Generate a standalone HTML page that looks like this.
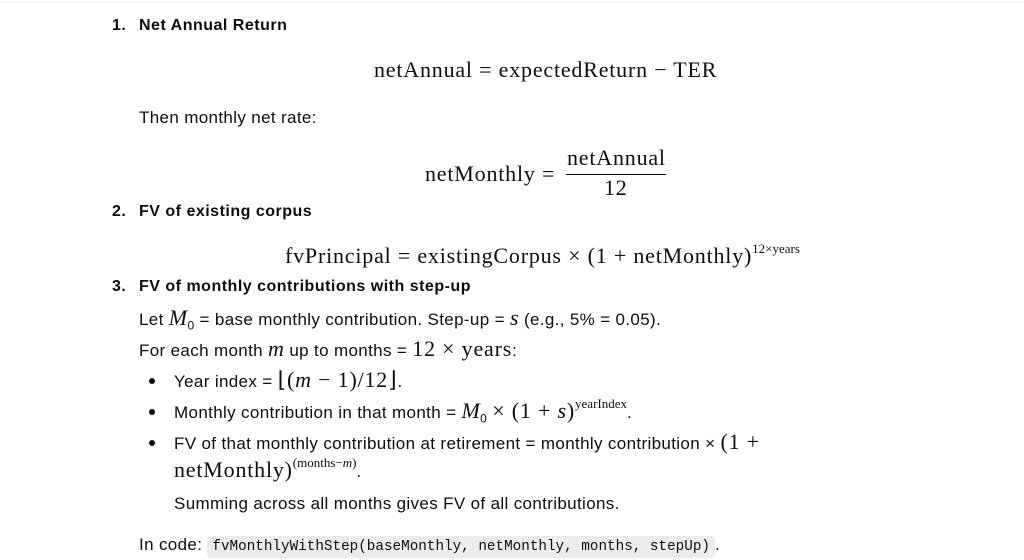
<!DOCTYPE html>
<html><head><meta charset="utf-8">
<style>
html,body{margin:0;padding:0;background:#fff;width:1024px;height:560px;overflow:hidden;position:relative}
body{font-family:"Liberation Sans",sans-serif;color:#0d0d0d;font-size:17px;letter-spacing:0.35px}
.a{position:absolute;white-space:nowrap;line-height:20px}
.b{font-weight:bold;font-size:16px;letter-spacing:0.5px}
.m{font-family:"Liberation Serif",serif;font-size:22px;letter-spacing:0.8px}
.i{font-style:italic;font-family:"Liberation Serif",serif;font-size:22px}
sup{font-size:13px;font-family:"Liberation Serif",serif;vertical-align:10px;line-height:0;letter-spacing:0}
sub{font-size:12px;line-height:0}
.code{font-family:"Liberation Mono",monospace;font-size:14.3px;letter-spacing:0;background:#ececec;border-radius:4px;padding:3px 5px}
.dot{position:absolute;width:6px;height:6px;border-radius:50%;background:#0d0d0d}
</style></head><body>
<div style="position:absolute;left:0;top:2px;width:1024px;height:1px;background:#eee"></div>
<div class="a b" style="left:112px;top:16px">1.</div><div class="a b" style="left:139px;top:16px">Net Annual Return</div>
<div class="a m" style="left:374px;top:60px">netAnnual = expectedReturn − TER</div>
<div class="a" style="left:139px;top:108px">Then monthly net rate:</div>
<div class="a m" style="left:425px;top:164px">netMonthly =</div>
<div class="a m" style="left:567px;top:148px">netAnnual</div>
<div style="position:absolute;left:566px;top:174px;width:100px;height:1px;background:#0d0d0d"></div>
<div class="a m" style="left:604px;top:178px">12</div>
<div class="a b" style="left:112px;top:202px">2.</div><div class="a b" style="left:139px;top:202px">FV of existing corpus</div>
<div class="a m" style="left:285px;top:246px">fvPrincipal = existingCorpus × (1 + netMonthly)<sup>12×years</sup></div>
<div class="a b" style="left:112px;top:277px">3.</div><div class="a b" style="left:139px;top:277px">FV of monthly contributions with step-up</div>
<div class="a" style="left:139px;top:308px">Let <span class="i">M</span><sub>0</sub> = base monthly contribution. Step-up = <span class="i">s</span> (e.g., 5% = 0.05).</div>
<div class="a" style="left:139px;top:339px">For each month <span class="i">m</span> up to months = <span class="m">12 × years</span>:</div>
<div class="dot" style="left:149px;top:378px"></div>
<div class="a" style="left:174px;top:370px">Year index = <span class="m">⌊(<i>m</i> − 1)/12⌋</span>.</div>
<div class="dot" style="left:149px;top:409px"></div>
<div class="a" style="left:174px;top:401px">Monthly contribution in that month = <span class="i">M</span><sub>0</sub> <span class="m">× (1 + <i>s</i>)</span><sup>yearIndex</sup>.</div>
<div class="dot" style="left:149px;top:440px"></div>
<div class="a" style="left:174px;top:432px">FV of that monthly contribution at retirement = monthly contribution × <span class="m">(1 +</span></div>
<div class="a m" style="left:174px;top:460px">netMonthly)<sup>(months−<i>m</i>)</sup><span style="font-size:17px;font-family:'Liberation Sans'">.</span></div>
<div class="a" style="left:174px;top:494px">Summing across all months gives FV of all contributions.</div>
<div class="a" style="left:139px;top:535px">In code: <span class="code">fvMonthlyWithStep(baseMonthly, netMonthly, months, stepUp)</span>.</div>
</body></html>
